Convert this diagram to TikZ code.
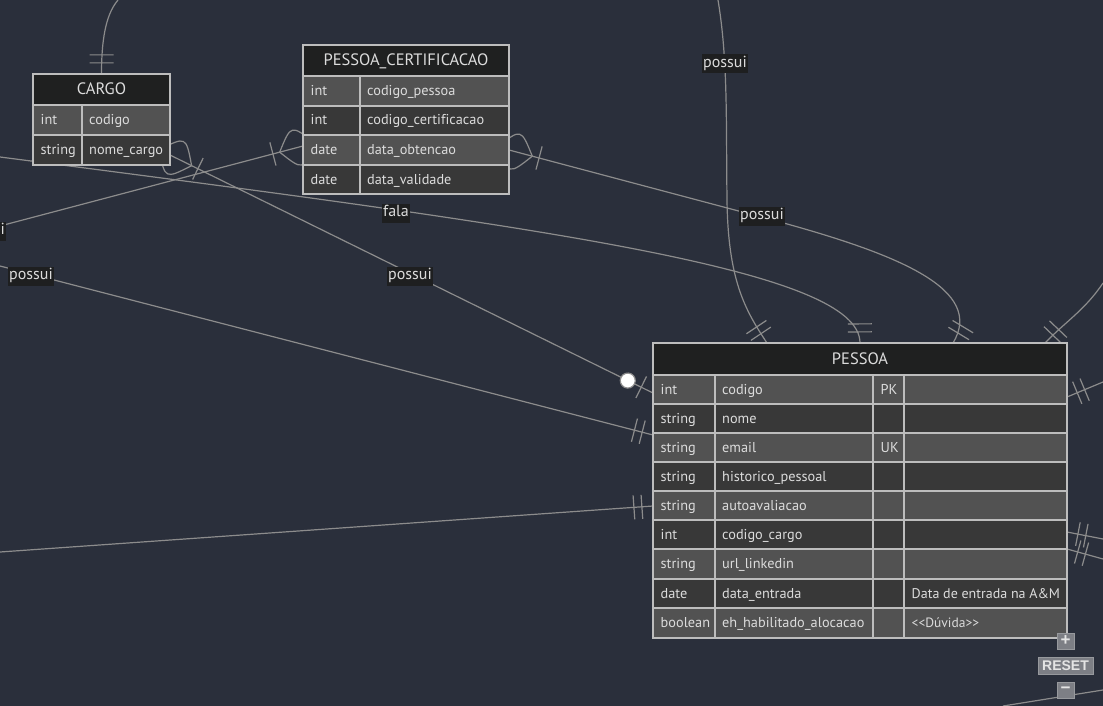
\documentclass[tikz,border=0pt]{standalone}
\usepackage{fontspec}
\setmainfont{PT Sans}[Ligatures=NoCommon]
\newfontfamily\btnfont{Liberation Sans}
\usetikzlibrary{decorations.markings,calc}
\pgfdeclarelayer{bglayer}
\pgfdeclarelayer{linelayer}
\pgfsetlayers{bglayer,linelayer,main}
\definecolor{canvas}{HTML}{2A2F3B}
\definecolor{hdr}{HTML}{1F2020}
\definecolor{rowA}{HTML}{525252}
\definecolor{rowB}{HTML}{383838}
\definecolor{tb}{HTML}{BDBDBD}
\definecolor{txt}{HTML}{DCDCDC}
\definecolor{lnc}{HTML}{8C8C8C}
\definecolor{lblbg}{HTML}{1E1F20}
\definecolor{btnfill}{HTML}{7D7F85}
\definecolor{btntxt}{HTML}{E4E4E4}
\tikzset{
 tbl/.style={draw=tb,line width=1.3pt},
 ctext/.style={anchor=base west,text=txt,font=\fontsize{14.3}{14.3}\selectfont,inner sep=0pt},
 htext/.style={anchor=base,text=txt,font=\fontsize{16.5}{16.5}\selectfont,inner sep=0pt},
 entity/.style={anchor=north west,inner sep=0pt,outer sep=0pt},
 conn/.style={draw=lnc,line width=1.2pt},
 lbl/.style={fill=lblbg,text=txt,font=\fontsize{16}{16}\selectfont,inner xsep=1.5pt,inner ysep=2pt,text height=11pt,text depth=4pt},
 markline/.style={draw=lnc,line width=1.2pt},
 oneE/.style={postaction={decorate,decoration={markings,mark=at position -0.1pt with {\draw[markline] (-11pt,-12pt)--(-11pt,12pt) (-19pt,-12pt)--(-19pt,12pt);}}}},
 oneS/.style={postaction={decorate,decoration={markings,mark=at position 0.1pt with {\draw[markline] (11pt,-12pt)--(11pt,12pt) (19pt,-12pt)--(19pt,12pt);}}}},
 crowE/.style={postaction={decorate,decoration={markings,mark=at position -0.1pt with {\draw[markline] (-24pt,0pt) .. controls (-6pt,24pt) .. (12pt,0pt) (-24pt,0pt) .. controls (-6pt,-24pt) .. (12pt,0pt) (-31pt,-12pt)--(-31pt,12pt);}}}},
 crowS/.style={postaction={decorate,decoration={markings,mark=at position 0.1pt with {\draw[markline] (24pt,0pt) .. controls (6pt,24pt) .. (-12pt,0pt) (24pt,0pt) .. controls (6pt,-24pt) .. (-12pt,0pt) (31pt,-12pt)--(31pt,12pt);}}}},
 zoE/.style={postaction={decorate,decoration={markings,mark=at position -0.1pt with {\draw[markline] (-13pt,-12pt)--(-13pt,12pt); \filldraw[markline,fill=white] (-28pt,0pt) circle (7.5pt);}}}},
 btn/.style={fill=btnfill,draw=btnfill!80!white,line width=0.6pt,text=btntxt,inner sep=0pt,font=\btnfont\bfseries},
}
\newcommand\ehead[6]{%
 \filldraw[fill=hdr,tbl] (#2,#4) rectangle (#3,#5);
 \node[htext] (#1) at ({(#2+#3)/2},{(#4+#5)/2+5.5}) {#6};}
\newcommand\rowtwo[9]{%
 \filldraw[fill=#7,tbl] (#2,#5) rectangle (#3,#6);
 \filldraw[fill=#7,tbl] (#3,#5) rectangle (#4,#6);
 \node[ctext] (#1a) at (#2+7.5,{(#5+#6)/2+4.5}) {#8};
 \node[ctext] (#1b) at (#3+7,{(#5+#6)/2+4.5}) {#9};}
\newcommand\prow[8]{%
 \foreach \xa/\xb in {653/715,715/873,873/904,904/1067}{\filldraw[fill=#4,tbl] (\xa,#2) rectangle (\xb,#3);}
 \node[ctext] (#1a) at (660.5,{(#2+#3)/2+4.5}) {#5};
 \node[ctext] (#1b) at (722,{(#2+#3)/2+4.5}) {#6};
 \node[ctext] (#1c) at (880.5,{(#2+#3)/2+4.5}) {#7};
 \node[ctext] (#1d) at (911.5,{(#2+#3)/2+4.5}) {#8};}
\begin{document}
\begin{tikzpicture}[x=1pt,y=-1pt]
\useasboundingbox (0,0) rectangle (1103,706);
\begin{pgfonlayer}{bglayer}
\fill[canvas] (0,0) rectangle (1103,706);
\end{pgfonlayer}

% ---------- CARGO ----------
\node[entity,minimum width=137pt,minimum height=91pt] (cargo) at (33,74) {};
\ehead{cargoH}{33}{170}{74}{105}{CARGO}
\rowtwo{cargoR1}{33}{82}{170}{105}{135}{rowA}{int}{codigo}
\rowtwo{cargoR2}{33}{82}{170}{135}{165}{rowB}{string}{nome\_cargo}

% ---------- PESSOA_CERTIFICACAO ----------
\node[entity,minimum width=206pt,minimum height=149pt] (pc) at (303,45) {};
\ehead{pcH}{303}{509}{45}{76}{PESSOA\_CERTIFICACAO}
\rowtwo{pcR1}{303}{360}{509}{76}{106}{rowA}{int}{codigo\_pessoa}
\rowtwo{pcR2}{303}{360}{509}{106}{135}{rowB}{int}{codigo\_certificacao}
\rowtwo{pcR3}{303}{360}{509}{135}{165}{rowA}{date}{data\_obtencao}
\rowtwo{pcR4}{303}{360}{509}{165}{194}{rowB}{date}{data\_validade}

% ---------- PESSOA ----------
\node[entity,minimum width=414pt,minimum height=295pt] (pessoa) at (653,343) {};
\ehead{pessoaH}{653}{1067}{343}{375}{PESSOA}
\prow{pR1}{375}{404}{rowA}{int}{codigo}{PK}{}
\prow{pR2}{404}{433}{rowB}{string}{nome}{}{}
\prow{pR3}{433}{462}{rowA}{string}{email}{UK}{}
\prow{pR4}{462}{491}{rowB}{string}{historico\_pessoal}{}{}
\prow{pR5}{491}{520}{rowA}{string}{autoavaliacao}{}{}
\prow{pR6}{520}{549}{rowB}{int}{codigo\_cargo}{}{}
\prow{pR7}{549}{579}{rowA}{string}{url\_linkedin}{}{}
\prow{pR8}{579}{608}{rowB}{date}{data\_entrada}{}{\fontsize{14}{14}\selectfont Data de entrada na A\&M}
\prow{pR9}{608}{638}{rowA}{boolean}{eh\_habilitado\_alocacao}{}{\fontsize{13.5}{13.5}\selectfont <{}<Dúvida>{}>}

% ---------- connection points ----------
\coordinate (cargoTopFree) at (118,0);
\coordinate (cargoR) at ($(cargo.north east)+(0,81)$);
\coordinate (pcL) at ($(pc.north west)+(0,101)$);
\coordinate (pcR) at ($(pc.north east)+(0,105)$);
\coordinate (pL1) at ($(pessoa.north west)+(0,50)$);
\coordinate (pL2) at ($(pessoa.north west)+(0,92)$);
\coordinate (pL3) at ($(pessoa.north west)+(0,163)$);
\coordinate (pT0) at ($(pessoa.north west)+(114,0)$);
\coordinate (pT1) at ($(pessoa.north west)+(207,0)$);
\coordinate (pT2) at ($(pessoa.north west)+(300,0)$);
\coordinate (pT3) at ($(pessoa.north west)+(392,0)$);
\coordinate (pRt1) at ($(pessoa.north east)+(0,54)$);
\coordinate (pRt2) at ($(pessoa.north east)+(0,189)$);
\coordinate (pRt3) at ($(pessoa.north east)+(0,206)$);
\coordinate (freeC) at (0,226);
\coordinate (freeFala) at (0,157);
\coordinate (freeE) at (718,0);
\coordinate (freeG) at (1103,283);
\coordinate (freeH) at (1103,382);
\coordinate (freeI) at (1103,539);
\coordinate (freeJ) at (1103,559);
\coordinate (freeK) at (0,266);
\coordinate (freeL) at (0,552);
\coordinate (freeM1) at (1003,706);
\coordinate (freeM2) at (1103,690);

\begin{pgfonlayer}{linelayer}
\draw[conn,oneE] (cargoTopFree) .. controls (108,12) and (101.5,32) .. (cargo.north);
\draw[conn,crowS,zoE] (cargoR) -- (pL1);
\draw[conn,crowE] (freeC) -- (pcL);
\draw[conn,oneE] (freeFala) .. controls (550,228) and (860,270) .. (pT1);
\draw[conn,oneE] (freeE) .. controls (728,60) and (726,120) .. (727,200) .. controls (728,280) and (745,310) .. (pT0);
\draw[conn,crowS,oneE] (pcR) -- (780,222) .. controls (900,255) and (985,290) .. (pT2);
\draw[conn,oneE] (freeG) .. controls (1085,310) and (1065,322) .. (pT3);
\draw[conn,oneS] (pRt1) -- (freeH);
\draw[conn,oneS] (pRt2) -- (freeI);
\draw[conn,oneS] (pRt3) -- (freeJ);
\draw[conn,oneE] (freeK) -- (pL2);
\draw[conn,oneE] (freeL) -- (pL3);
\draw[conn] (freeM1) -- (freeM2);
\end{pgfonlayer}

% ---------- labels ----------
\node[lbl] (lblC) at (-17,231) {possui};
\node[lbl] (lblFala) at (396,213) {fala};
\node[lbl] (lblB) at (410,276) {possui};
\node[lbl] (lblK) at (31,276) {possui};
\node[lbl] (lblE) at (725,64) {possui};
\node[lbl] (lblF) at (762,216) {possui};

% ---------- buttons ----------
\node[btn,minimum width=17pt,minimum height=16pt,font=\btnfont\bfseries\fontsize{17}{17}\selectfont] (bPlus) at (1065.5,641) {+};
\node[btn,minimum width=55pt,minimum height=17pt,font=\btnfont\bfseries\fontsize{14}{14}\selectfont] (bReset) at (1065.5,665.5) {RESET};
\node[btn,minimum width=17pt,minimum height=16pt,font=\btnfont\bfseries\fontsize{17}{17}\selectfont] (bMinus) at (1065.5,690) {−};
\end{tikzpicture}
\end{document}
